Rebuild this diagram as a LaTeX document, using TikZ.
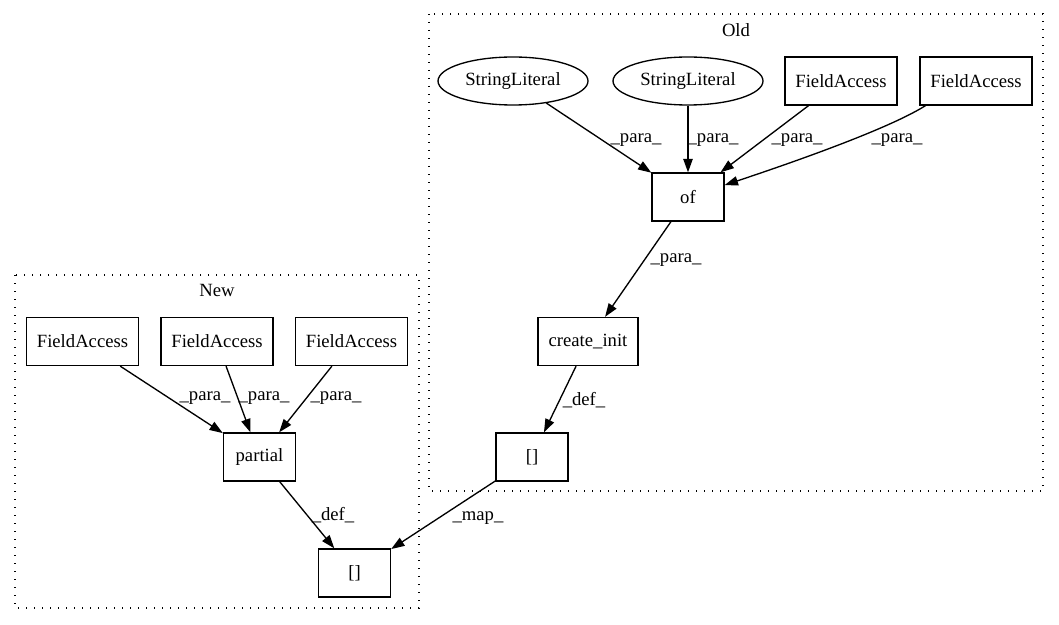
\documentclass[tikz,border=0pt]{standalone}
\usepackage{fontspec}
\setmainfont{Liberation Serif}
\usepackage{tikz}
\usetikzlibrary{arrows.meta}
\usetikzlibrary{shapes.geometric}

\begin{document}
\begin{tikzpicture}[x=0.75pt,y=-0.75pt,
    every node/.style={font=\fontsize{14pt}{16pt}\selectfont},
    box/.style={draw, line width=1pt, rectangle, minimum height=36pt, inner sep=0pt},
    lit/.style={draw, line width=1pt, ellipse, minimum width=112.5pt, minimum height=36pt, inner sep=0pt},
    cluster/.style={line width=1pt, dash pattern=on 1pt off 5pt},
    edge/.style={line width=1pt, -{Triangle[length=10pt,width=7pt]}},
    lbl/.style={inner sep=0pt}]
     \useasboundingbox (0,0) rectangle (1059,624);

     \draw[cluster] (429,14) rectangle (1043,491);
     \draw[cluster] (15,275) rectangle (419,608);
     \node (oldtitle) at (736,30) {Old};
     \node (newtitle) at (217,290) {New};

     \node[lit] (sl1) at (513,81) {StringLiteral};
     \node[lit] (sl2) at (688,81) {StringLiteral};
     \node[box, minimum width=84pt] (fa3) at (841,81) {FieldAccess};
     \node[box, minimum width=84pt] (fa4) at (976,81) {FieldAccess};
     \node[box, minimum width=54pt] (of) at (688,197) {of};
     \node[box, minimum width=75pt] (ci) at (588,341.5) {create\_init};
     \node[box, minimum width=54pt] (ob) at (532,457) {[]};

     \node[box, minimum width=84pt] (na1) at (82.5,341.5) {FieldAccess};
     \node[box, minimum width=84pt] (na2) at (217,341.5) {FieldAccess};
     \node[box, minimum width=84pt] (na3) at (351.5,341.5) {FieldAccess};
     \node[box, minimum width=54pt] (pa) at (259.5,457) {partial};
     \node[box, minimum width=54pt] (nb) at (354.5,573) {[]};

     \draw[edge] (sl1) -- (of) node[lbl] (l1) at (636,140) {\_para\_};
     \draw[edge] (sl2) -- (of) node[lbl] (l2) at (713,140) {\_para\_};
     \draw[edge] (fa3) -- (of) node[lbl] (l3) at (797,140) {\_para\_};
     \draw[edge] (fa4.206) .. controls (890,128) and (800,160) .. (of.18) node[lbl] (l4) at (897,140) {\_para\_};
     \draw[edge] (of) -- (ci) node[lbl] (l5) at (676,260) {\_para\_};
     \draw[edge] (ci) -- (ob) node[lbl] (l6) at (584,400) {\_def\_};
     \draw[edge] (ob) -- (nb) node[lbl] (l7) at (478,518) {\_map\_};

     \draw[edge] (na1) -- (pa) node[lbl] (l8) at (205,398) {\_para\_};
     \draw[edge] (na2) -- (pa) node[lbl] (l9) at (264,398) {\_para\_};
     \draw[edge] (na3) -- (pa) node[lbl] (l10) at (336,398) {\_para\_};
     \draw[edge] (pa) -- (nb) node[lbl] (l11) at (333,515) {\_def\_};
\end{tikzpicture}
\end{document}
